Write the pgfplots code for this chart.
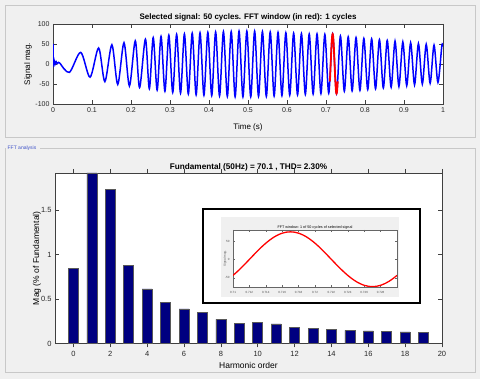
\documentclass[border=0pt]{standalone}
\usepackage{pgfplots}
\pgfplotsset{compat=1.18}
\usepackage{fontspec}
\setmainfont{Liberation Sans}
\definecolor{figbg}{RGB}{240,240,240}
\definecolor{panelline}{RGB}{200,200,200}
\definecolor{navybar}{RGB}{0,0,128}
\definecolor{paneltitle}{RGB}{60,80,200}
\pgfplotsset{
  matlab/.style={
    scale only axis,
    anchor=south west,
    axis background/.style={fill=white},
    axis line style={draw=black!75, line width=0.5pt},
    tick style={draw=black!75, line width=0.5pt},
    tick align=inside,
    major tick length=4pt,
    /pgf/number format/assume math mode=true,
    tick label style={text=black!85},
  }
}
\begin{document}
\begin{tikzpicture}[x=1pt,y=1pt]
\useasboundingbox (0,0) rectangle (480,379);
\fill[figbg] (0,0) rectangle (480,379);
% panels
\draw[panelline] (5,374) rectangle (475,242);
\draw[panelline] (40,231) -- (475,231) -- (475,7) -- (5,7) -- (5,231);
\begin{scope}
\clip (5,220) rectangle (60,240);
\node[anchor=base east, font=\fontsize{5}{6}\selectfont, text=paneltitle, inner sep=0pt] at (36.5,229) {FFT analysis};
\end{scope}

% ---- selected signal ----
\begin{axis}[matlab,
  at={(53pt,275pt)}, width=390pt, height=80pt,
  xmin=0, xmax=1, ymin=-100, ymax=100,
  xtick={0,0.1,0.2,0.3,0.4,0.5,0.6,0.7,0.8,0.9,1},
  ytick={-100,-50,0,50,100},
  tick label style={font=\fontsize{7}{8}\selectfont},
  title={Selected signal: 50 cycles. FFT window (in red): 1 cycles},
  title style={font=\bfseries\fontsize{8}{9}\selectfont, anchor=base, at={(0.5,1)}, yshift=-1.5pt},
  xlabel={Time (s)},
  xlabel style={font=\fontsize{8}{9}\selectfont, anchor=base, at={(0.5,0)}, yshift=-25.5pt},
  ylabel={Signal mag.},
  ylabel style={font=\fontsize{8}{9}\selectfont, anchor=center, at={(0,0.5)}, yshift=25pt},
]
\addplot[blue, line width=1.5pt, sharp plot] coordinates {
(0,50) (0.001,0) (0.003,8) (0.005,-1) (0.008,6) (0.011,1) (0.014,4) (0.018,2)};
\addplot[blue, line width=1.5pt, smooth] coordinates {
(0.018,2) (0.042,-21) (0.071,29) (0.095,-33) (0.117,40) (0.133,-44)
(0.151,48) (0.166,-51) (0.182,53) (0.196,-55) (0.211,58) (0.222,-59)
(0.237,62) (0.247,-62) (0.257,66) (0.267,-65) (0.277,69) (0.287,-68)
(0.297,72) (0.307,-71) (0.317,74) (0.327,-73) (0.337,75) (0.347,-75)
(0.357,77) (0.367,-77) (0.377,78) (0.387,-78) (0.397,79) (0.407,-79)
(0.417,80) (0.427,-80) (0.437,81) (0.447,-81) (0.457,81) (0.467,-82)
(0.477,82) (0.487,-82) (0.497,82) (0.507,-82) (0.517,82) (0.527,-81)
(0.537,81) (0.547,-81) (0.557,80) (0.567,-80) (0.577,79) (0.587,-79)
(0.597,78) (0.607,-78) (0.617,77) (0.627,-77) (0.637,76) (0.647,-76)
(0.657,75) (0.667,-75) (0.677,75) (0.687,-74) (0.697,74) (0.707,-73)
(0.717,75) (0.727,-74) (0.737,70) (0.747,-68) (0.757,68) (0.767,-67)
(0.777,66) (0.787,-66) (0.797,64) (0.807,-64) (0.817,63) (0.827,-62)
(0.837,61) (0.847,-60) (0.857,59) (0.867,-58) (0.877,57) (0.887,-56)
(0.897,55) (0.907,-54) (0.917,53) (0.927,-52) (0.937,51) (0.947,-50)
(0.957,49) (0.967,-48) (0.977,47) (0.987,-46) (0.997,45) (1.0,44)};
\addplot[red, line width=1.8pt, smooth] coordinates {
(0.7100,-43.5) (0.7105,-33.6) (0.7110,-22.9) (0.7115,-11.6) (0.7120,0)
(0.7125,11.7) (0.7130,23.2) (0.7135,34.1) (0.7140,44.1) (0.7145,53.0)
(0.7150,60.7) (0.7155,66.8) (0.7160,71.3) (0.7165,74.1) (0.7170,75)
(0.7175,74.1) (0.7180,71.3) (0.7185,66.8) (0.7190,60.7) (0.7195,53.0)
(0.7200,44.1) (0.7205,34.1) (0.7210,23.2) (0.7215,11.7) (0.7220,0)
(0.7225,-11.6) (0.7230,-22.9) (0.7235,-33.6) (0.7240,-43.5) (0.7245,-52.3)
(0.7250,-59.9) (0.7255,-65.9) (0.7260,-70.4) (0.7265,-73.1) (0.7270,-74)
(0.7275,-73.1) (0.7280,-70.4) (0.7285,-65.9) (0.7290,-59.9) (0.7295,-52.3)
(0.7300,-43.5)};
\end{axis}

% ---- harmonic spectrum ----
\begin{axis}[matlab,
  at={(55pt,35.5pt)}, width=387pt, height=170.5pt,
  xmin=-1, xmax=20, ymin=0, ymax=1.92,
  ybar, bar width=10pt,
  xtick={0,2,4,6,8,10,12,14,16,18,20},
  ytick={0,0.5,1,1.5},
  tick label style={font=\fontsize{7.5}{8}\selectfont},
  title={Fundamental (50Hz) = 70.1 , THD= 2.30\%},
  title style={font=\bfseries\fontsize{8.2}{9}\selectfont, anchor=base, at={(0.5,1)}, yshift=-2.5pt},
  xlabel={Harmonic order},
  xlabel style={font=\fontsize{8.5}{9}\selectfont, anchor=base, at={(0.5,0)}, yshift=-25.5pt},
  ylabel={Mag (\% of Fundamental)},
  ylabel style={font=\fontsize{8.5}{9}\selectfont, anchor=center, at={(0,0.5)}, yshift=18pt},
]
\addplot[fill=navybar, draw=black!65, line width=0.6pt] coordinates {
(0,0.847) (1,1.92) (2,1.736) (3,0.88) (4,0.614) (5,0.467) (6,0.390)
(7,0.351) (8,0.272) (9,0.229) (10,0.239) (11,0.220) (12,0.182) (13,0.171)
(14,0.160) (15,0.149) (16,0.141) (17,0.133) (18,0.130) (19,0.126)};
\end{axis}

% ---- inset ----
\filldraw[fill=white, draw=black, line width=1.6pt] (203,170) rectangle (420,76);
\fill[figbg] (221,162) rectangle (399,82);
\begin{axis}[matlab,
  at={(233pt,92pt)}, width=164pt, height=57pt,
  xmin=0.71, xmax=0.73, ymin=-75, ymax=80,
  major tick length=2pt,
  axis line style={draw=black!60, line width=0.3pt},
  tick style={draw=black!60, line width=0.3pt},
  xtick={0.71,0.712,0.714,0.716,0.718,0.72,0.722,0.724,0.726,0.728},
  xticklabels={0.71,0.712,0.714,0.716,0.718,0.72,0.722,0.724,0.726,0.728},
  ytick={-50,0,50},
  tick label style={font=\fontsize{3}{3.5}\selectfont, text=black!70},
  xticklabel style={yshift=-1pt},
  title={FFT window: 1 of 50 cycles of selected signal},
  title style={font=\fontsize{3.7}{4}\selectfont, anchor=base, at={(0.5,1)}, yshift=-4.8pt},
  ylabel={Signal mag.},
  ylabel style={font=\fontsize{3}{3.5}\selectfont, text=black!70, anchor=center, at={(0,0.5)}, yshift=8pt},
]
\addplot[red, line width=1.3pt, smooth] coordinates {
(0.7100,-43.5) (0.7105,-33.6) (0.7110,-22.9) (0.7115,-11.6) (0.7120,0)
(0.7125,11.7) (0.7130,23.2) (0.7135,34.1) (0.7140,44.1) (0.7145,53.0)
(0.7150,60.7) (0.7155,66.8) (0.7160,71.3) (0.7165,74.1) (0.7170,75)
(0.7175,74.1) (0.7180,71.3) (0.7185,66.8) (0.7190,60.7) (0.7195,53.0)
(0.7200,44.1) (0.7205,34.1) (0.7210,23.2) (0.7215,11.7) (0.7220,0)
(0.7225,-11.6) (0.7230,-22.9) (0.7235,-33.6) (0.7240,-43.5) (0.7245,-52.3)
(0.7250,-59.9) (0.7255,-65.9) (0.7260,-70.4) (0.7265,-73.1) (0.7270,-74)
(0.7275,-73.1) (0.7280,-70.4) (0.7285,-65.9) (0.7290,-59.9) (0.7295,-52.3)
(0.7300,-43.5)};
\end{axis}
\end{tikzpicture}
\end{document}
